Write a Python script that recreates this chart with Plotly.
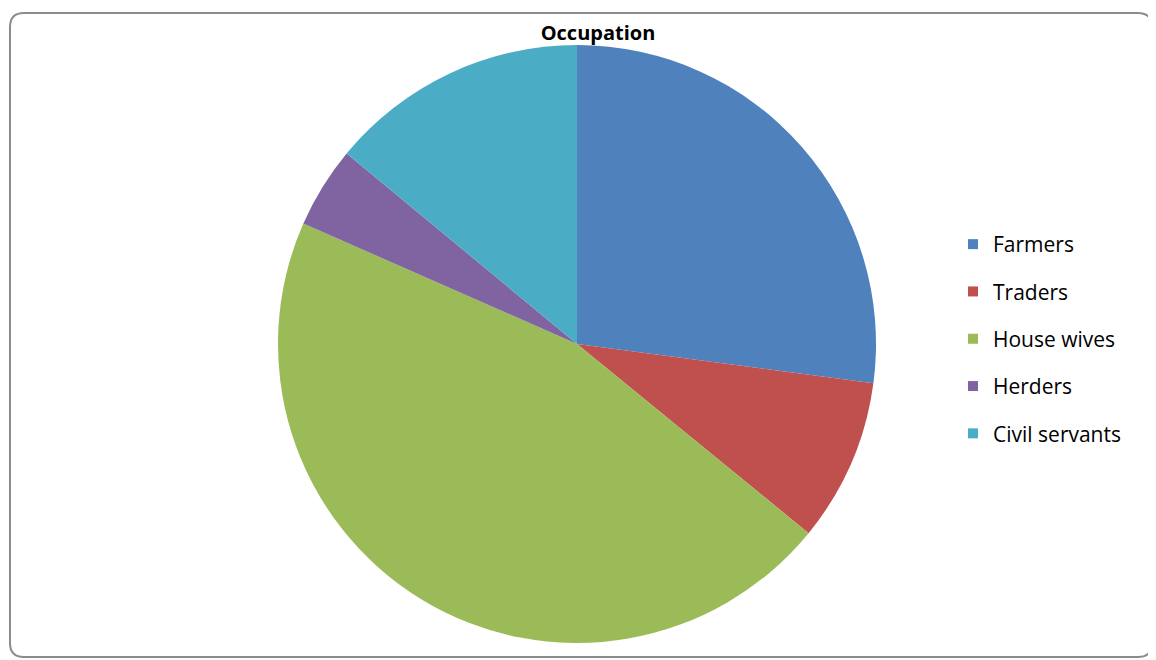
import plotly.graph_objects as go

labels = ["Farmers", "Traders", "House wives", "Herders", "Civil servants"]
values = [27.1, 8.8, 45.7, 4.4, 14.0]
colors = ["#4F81BD", "#C0504D", "#9BBB59", "#8064A2", "#4BACC6"]
title_text = "Occupation"

W, H = 1156, 660
OFF = 8  # page body margin
cx, cy, r = 577 - OFF, 344 - OFF, 299

fig = go.Figure()
fig.add_trace(go.Pie(
    labels=labels, values=values, sort=False, direction="clockwise", rotation=0,
    marker=dict(colors=colors, line=dict(width=0)),
    textinfo="none", showlegend=False,
    domain=dict(x=[(cx - r) / W, (cx + r) / W], y=[1 - (cy + r) / H, 1 - (cy - r) / H]),
))
for lab, col in zip(labels, colors):
    fig.add_trace(go.Scatter(
        x=[None], y=[None], mode="markers", name=lab, legendgroup=lab,
        marker=dict(symbol="square", size=10, color=col),
    ))

# rounded border
x0, x1 = (10 - OFF) / W, (1152 - OFF) / W
y0, y1 = 1 - (657 - OFF) / H, 1 - (13 - OFF) / H
rx, ry = 14 / W, 14 / H
path = (f"M {x0+rx},{y1} L {x1-rx},{y1} Q {x1},{y1} {x1},{y1-ry} "
        f"L {x1},{y0+ry} Q {x1},{y0} {x1-rx},{y0} L {x0+rx},{y0} "
        f"Q {x0},{y0} {x0},{y0+ry} L {x0},{y1-ry} Q {x0},{y1} {x0+rx},{y1} Z")
fig.add_shape(type="path", path=path, xref="paper", yref="paper",
              line=dict(color="#8c8c8c", width=2), layer="below")

fig.update_layout(
    width=W, height=H,
    margin=dict(l=0, r=0, t=0, b=0),
    paper_bgcolor="white", plot_bgcolor="white",
    xaxis=dict(visible=False), yaxis=dict(visible=False),
    title=dict(text="<b>" + title_text + "</b>", x=(598 - OFF) / W, xanchor="center",
               y=1 - (33 - OFF) / H, yanchor="middle",
               font=dict(family="Open Sans", size=20, color="#000000")),
    legend=dict(x=(953 - OFF) / W, xanchor="left", y=1 - (224 - OFF) / H, yanchor="top",
                font=dict(family="Open Sans", size=21, color="#000000"),
                tracegroupgap=17, itemwidth=30, bgcolor="rgba(0,0,0,0)"),
    font=dict(family="Open Sans"),
)

fig.write_html("out.html")
